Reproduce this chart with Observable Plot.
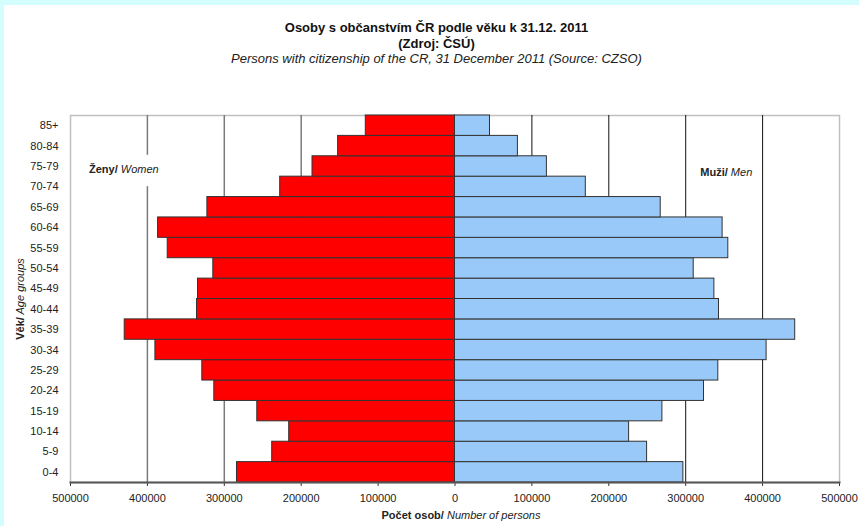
<!DOCTYPE html>
<html>
<head>
<meta charset="utf-8">
<script src="https://cdn.jsdelivr.net/npm/d3@7"></script>
<script src="https://cdn.jsdelivr.net/npm/@observablehq/plot@0.6"></script>
<style>
  html, body { margin: 0; padding: 0; background: #d4fefe; width: 859px; height: 526px; overflow: hidden; }
  #page { position: absolute; left: 4px; top: 5px; width: 855px; height: 521px; background: #fff;
          font-family: "Liberation Sans", Arial, sans-serif; color: #111; }
  #titles { position: absolute; left: 5px; width: 855px; top: 15px; text-align: center; }
  #titles div { line-height: 15.5px; font-size: 13px; white-space: nowrap; }
  #t1, #t2 { font-weight: bold; }
  #t3 { font-style: italic; color: #222; }
  #chart { position: absolute; left: 0; top: 60px; }
</style>
</head>
<body>
<div id="page">
  <div id="titles">
    <div id="t1">Osoby s občanstvím ČR podle věku k 31.12. 2011</div>
    <div id="t2">(Zdroj: ČSÚ)</div>
    <div id="t3">Persons with citizenship of the CR, 31 December 2011 (Source: CZSO)</div>
  </div>
  <div id="chart"></div>
</div>
<script>
// ---- data ----
const ages = ["0-4","5-9","10-14","15-19","20-24","25-29","30-34","35-39","40-44","45-49","50-54","55-59","60-64","65-69","70-74","75-79","80-84","85+"];
const women = [283500, 237700, 215600, 257100, 313000, 328600, 389600, 429500, 335500, 334200, 314300, 373600, 386100, 322000, 227300, 185300, 152000, 116000];
const men   = [297000, 249800, 226400, 269700, 323800, 342400, 405200, 442400, 343300, 337300, 310400, 355400, 348000, 267500, 170100, 119500, 81800, 45500];
const xTicks = [-500000, -400000, -300000, -200000, -100000, 0, 100000, 200000, 300000, 400000, 500000];
const gridLeft = [-400000, -300000, -200000, -100000];
const gridRight = [100000, 200000, 300000, 400000];
const womenLabel = "Ženy/ Women";
const menLabel = "Muži/ Men";
const yTitle = "Věk/ Age groups";
const xTitle = "Počet osob/ Number of persons";

const rows = ages.map((a, i) => ({age: a, women: women[i], men: men[i]}));
const ageOrder = ages.slice().reverse();

const chart = Plot.plot({
  width: 855,
  height: 461,
  marginLeft: 66,
  marginRight: 20,
  marginTop: 50,
  marginBottom: 44,
  style: {fontFamily: '"Liberation Sans", Arial, sans-serif', fontSize: "11px", color: "#222", background: "transparent"},
  x: {domain: [-500000, 500000]},
  y: {domain: ageOrder, padding: 0, round: false},
  marks: [
    Plot.frame({stroke: "#c0c0c0", strokeWidth: 1.5}),
    Plot.ruleX(gridLeft, {stroke: "#7a7a7a", strokeWidth: 1.5}),
    Plot.ruleX(gridRight, {stroke: "#111", strokeWidth: 1}),
    Plot.barX([{}], {x1: -480000, x2: -380000, y: () => "75-79", fill: "white", insetBottom: -10, insetTop: -1}),
    Plot.barX(rows, {y: "age", x1: 0, x2: d => -d.women, fill: "#ff0000", stroke: "#333", strokeWidth: 1}),
    Plot.barX(rows, {y: "age", x1: 0, x2: d => d.men, fill: "#99c9f8", stroke: "#333", strokeWidth: 1}),
    Plot.text([womenLabel], {x: -476000, y: () => "75-79", text: d => d, textAnchor: "start", dy: 3, fontSize: 11}),
    Plot.text([menLabel], {x: 319000, y: () => "75-79", text: d => d, textAnchor: "start", dy: 6, fontSize: 11}),
    Plot.axisY({tickSize: 0, tickPadding: 12, label: null, fontSize: 11}),
    Plot.axisX({ticks: xTicks, tickFormat: d => String(Math.abs(d)), tickSize: 4, tickPadding: 8, label: null, fontSize: 11, stroke: "#333"}),
    Plot.frame({anchor: "bottom", stroke: "#555", strokeWidth: 2}),
    Plot.text([yTitle], {frameAnchor: "left", textAnchor: "middle", dx: -50, rotate: -90, text: d => d, fontSize: 11}),
    Plot.text([xTitle], {frameAnchor: "bottom", dx: 6, dy: 36, text: d => d, fontSize: 11})
  ]
});
document.getElementById("chart").appendChild(chart);

// mixed bold / italic labels
const styled = {
  [womenLabel]: ["Ženy/", " Women"],
  [menLabel]: ["Muži/", " Men"],
  [yTitle]: ["Věk/", " Age groups"],
  [xTitle]: ["Počet osob/", " Number of persons"]
};
d3.select(chart).selectAll("text").each(function() {
  const t = this.textContent;
  if (styled[t]) {
    const [b, it] = styled[t];
    const sel = d3.select(this);
    sel.text(null);
    sel.append("tspan").attr("font-weight", "bold").text(b);
    sel.append("tspan").attr("font-style", "italic").text(it);
  }
});
</script>
</body>
</html>
